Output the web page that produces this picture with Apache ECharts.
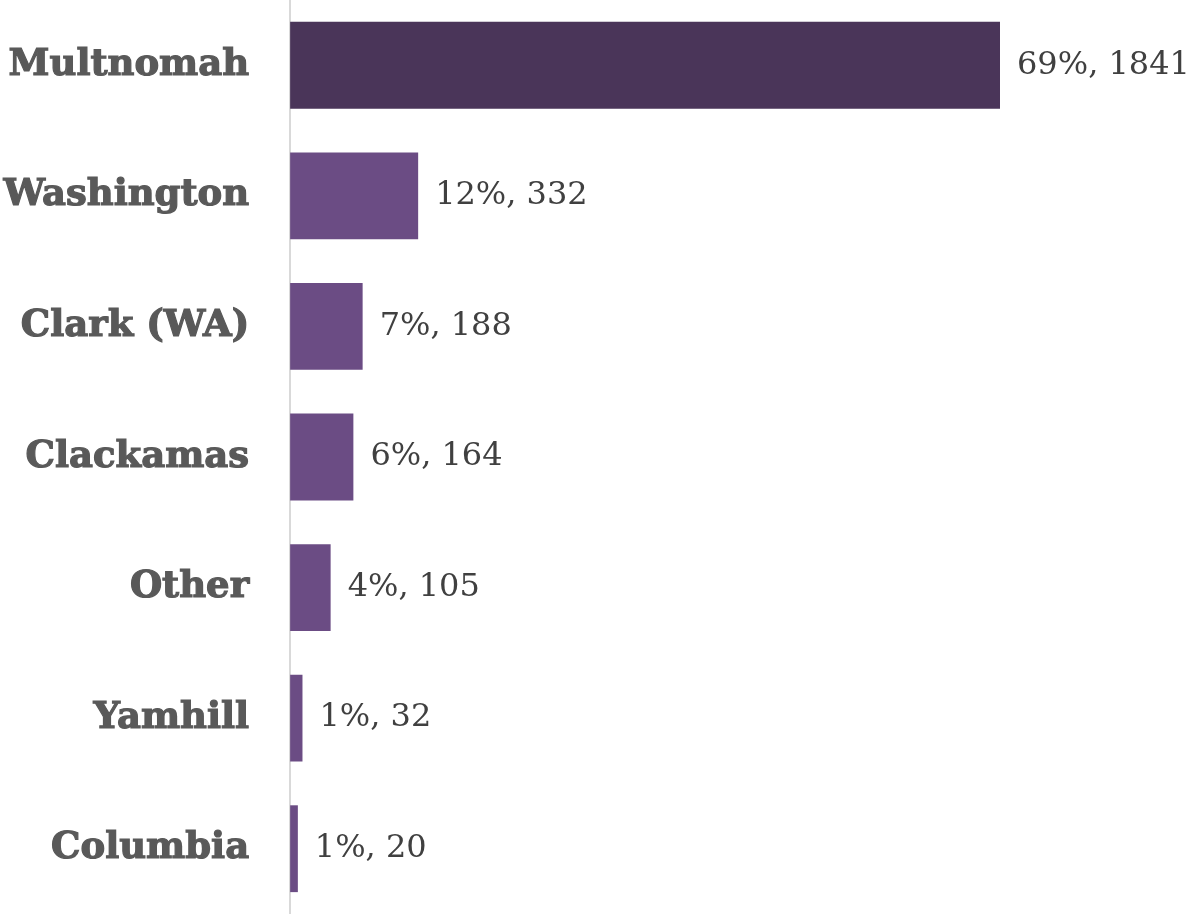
<!DOCTYPE html>
<html>
<head>
<meta charset="utf-8">
<script src="https://cdn.jsdelivr.net/npm/echarts@6/dist/echarts.min.js"></script>
<style>
  html, body { margin: 0; padding: 0; background: #ffffff; }
  #chart { width: 1189px; height: 914px; }
</style>
</head>
<body>
<div id="chart"></div>
<script>
// Counties, top to bottom
const counties = ['Multnomah', 'Washington', 'Clark (WA)', 'Clackamas', 'Other', 'Yamhill', 'Columbia'];
// Counts per county
const counts = [1841, 332, 188, 164, 105, 32, 20];
// Share of total, percent
const shares = [69, 12, 7, 6, 4, 1, 1];

const darkPurple = '#4a3559';
const purple = '#6b4c84';

const chart = echarts.init(document.getElementById('chart'));

chart.setOption({
  animation: false,
  backgroundColor: '#ffffff',
  grid: { left: 290, top: 0, bottom: 0, width: 710, containLabel: false },
  xAxis: {
    type: 'value',
    min: 0,
    max: 1841,
    show: false
  },
  yAxis: {
    type: 'category',
    inverse: true,
    data: counties,
    axisLine: { show: true, lineStyle: { color: '#d9d9d9', width: 2 } },
    axisTick: { show: false },
    axisLabel: {
      margin: 41,
      fontFamily: 'DejaVu Serif',
      fontWeight: 'bold',
      fontSize: 37,
      color: '#595959',
      textBorderColor: '#595959',
      textBorderWidth: 1.2
    }
  },
  series: [{
    type: 'bar',
    barWidth: '66.5%',
    data: counts.map((v, i) => ({
      value: v,
      itemStyle: { color: i === 0 ? darkPurple : purple }
    })),
    label: {
      show: true,
      position: 'right',
      distance: 17,
      fontFamily: 'DejaVu Serif',
      fontSize: 32,
      color: '#404040',
      formatter: p => shares[p.dataIndex] + '%, ' + counts[p.dataIndex]
    }
  }]
});
</script>
</body>
</html>
